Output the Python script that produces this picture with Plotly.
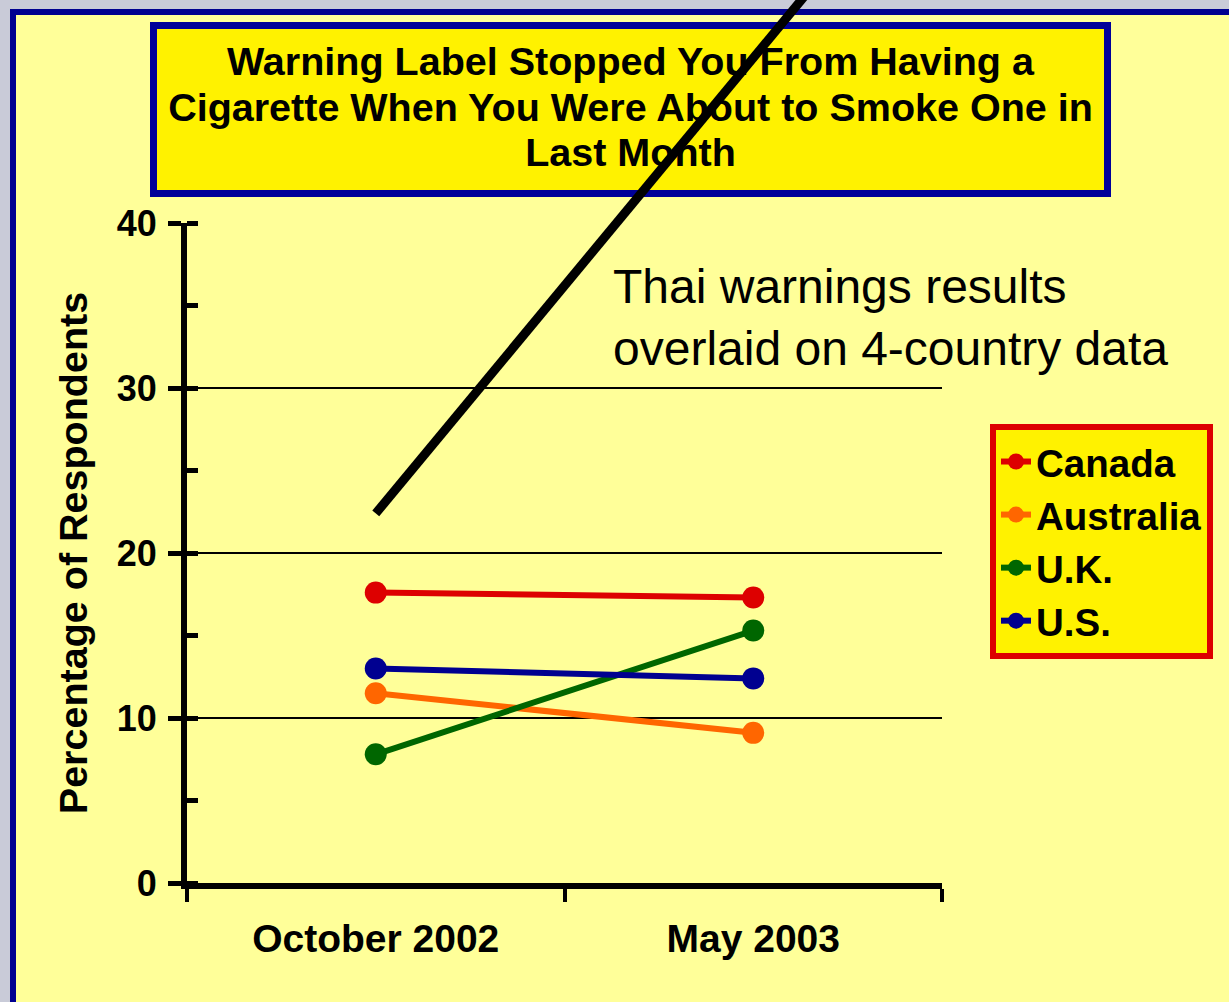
import plotly.graph_objects as go

# ---- data ----
categories = ["October 2002", "May 2003"]
countries = ["Canada", "Australia", "U.K.", "U.S."]
canada = [17.6, 17.3]
australia = [11.5, 9.1]
uk = [7.8, 15.3]
us = [13.0, 12.4]
thai = [22.4, 50.0]
y_ticks = [0, 10, 20, 30, 40]
title_lines = [
    "Warning Label Stopped You From Having a",
    "Cigarette When You Were About to Smoke One in",
    "Last Month",
]
thai_note = "Thai warnings results<br>overlaid on 4-country data"

series = [canada, australia, uk, us]
colors = ["#DD0000", "#FF6600", "#006600", "#000090"]

W, H = 1229, 1002
FONT = "Liberation Sans, Arial, Helvetica, sans-serif"

x_pos = list(range(len(categories)))
x_bounds = [p - 0.5 for p in x_pos] + [x_pos[-1] + 0.5]

# pixel geometry of the plot area
px_left, px_right = 187, 942
px_zero, px_top = 883, 223
y_max = y_ticks[-1]
px_per_unit = (px_zero - px_top) / y_max

fig = go.Figure()

for name, vals, col in zip(countries, series, colors):
    fig.add_trace(go.Scatter(
        x=x_pos, y=vals, name=name, mode="lines+markers",
        line=dict(color=col, width=6),
        marker=dict(color=col, size=22),
        xaxis="x", yaxis="y", legendgroup=name,
    ))

# Thai overlay line, continued along its own direction to the edge of the page
slope = (thai[1] - thai[0]) / (x_pos[1] - x_pos[0])
thai_x = x_pos + [x_bounds[-1]]
thai_y = thai + [thai[1] + slope * (x_bounds[-1] - x_pos[1])]
fig.add_trace(go.Scatter(
    x=thai_x, y=thai_y, mode="lines", showlegend=False,
    line=dict(color="black", width=9), hoverinfo="skip",
    xaxis="x", yaxis="y2",
))

bold = dict(family=FONT, color="black", weight="bold")

shapes = [
    dict(type="rect", xref="paper", yref="paper", layer="below",
         x0=13 / W, x1=1.1, y0=-0.1, y1=1 - 12 / H,
         line=dict(color="#000090", width=6), fillcolor="#FFFF99"),
    dict(type="rect", xref="paper", yref="paper", layer="below",
         x0=153.5 / W, x1=1107.5 / W, y0=1 - 193.5 / H, y1=1 - 25.5 / H,
         line=dict(color="#000099", width=7), fillcolor="#FFF200"),
]
line_centers = [57, 103, 148]
for txt, cy in zip(title_lines, line_centers):
    shapes.append(dict(
        type="rect", xref="paper", yref="paper", layer="below",
        x0=157 / W, x1=1104 / W, y0=1 - (cy + 20) / H, y1=1 - (cy - 20) / H,
        line=dict(width=0), fillcolor="rgba(0,0,0,0)",
        label=dict(text=txt, font=dict(size=39.5, **bold),
                   textposition="middle center"),
    ))

fig.update_layout(
    template="none",
    width=W, height=H,
    margin=dict(l=0, r=0, t=0, b=0),
    paper_bgcolor="#C9CBD8",
    plot_bgcolor="rgba(0,0,0,0)",
    font=dict(family=FONT, color="black"),
    showlegend=True,
    legend=dict(
        x=990 / W, y=1 - 424 / H, xanchor="left", yanchor="top",
        bgcolor="#FFF200", bordercolor="#DD0000", borderwidth=6,
        font=dict(size=38.5, **bold), tracegroupgap=0,
    ),
    xaxis=dict(
        domain=[px_left / W, px_right / W], anchor="y",
        range=[x_bounds[0], x_bounds[-1]],
        tickmode="array", tickvals=x_pos, ticktext=categories,
        ticks="", showgrid=False, zeroline=False,
        showline=True, linecolor="black", linewidth=6,
        tickfont=dict(size=39, **bold), ticklabelstandoff=16,
        minor=dict(tickmode="array", tickvals=x_bounds, ticks="outside",
                   ticklen=13, tickwidth=4, tickcolor="black", showgrid=False),
        fixedrange=True,
    ),
    yaxis=dict(
        domain=[(H - px_zero) / H, (H - px_top) / H], anchor="x",
        range=[0, y_max],
        tickmode="array", tickvals=y_ticks,
        ticks="outside", ticklen=13, tickwidth=5, tickcolor="black",
        showline=True, linecolor="black", linewidth=6,
        showgrid=True, gridcolor="black", gridwidth=1.5, zeroline=False,
        tickfont=dict(size=36, **bold), ticklabelstandoff=4,
        minor=dict(dtick=5, ticks="inside", ticklen=11, tickwidth=5,
                   tickcolor="black", showgrid=False),
        title=dict(text="Percentage of Respondents",
                   font=dict(size=39.5, **bold), standoff=19),
        fixedrange=True,
    ),
    yaxis2=dict(
        domain=[(H - px_zero) / H, 1.0], anchor="x",
        range=[0, px_zero / px_per_unit],
        visible=False, showgrid=False, zeroline=False, fixedrange=True,
    ),
    shapes=shapes,
    annotations=[
        dict(text=thai_note,
             xref="paper", yref="paper", x=611 / W, y=1 - 318 / H,
             xanchor="left", yanchor="middle", align="left", showarrow=False,
             font=dict(family=FONT, size=48, color="black")),
    ],
)

fig.write_html(
    "out.html",
    config={"displayModeBar": False},
    post_script="document.body.style.margin='0';"
                "document.body.style.background='#C9CBD8';",
)
